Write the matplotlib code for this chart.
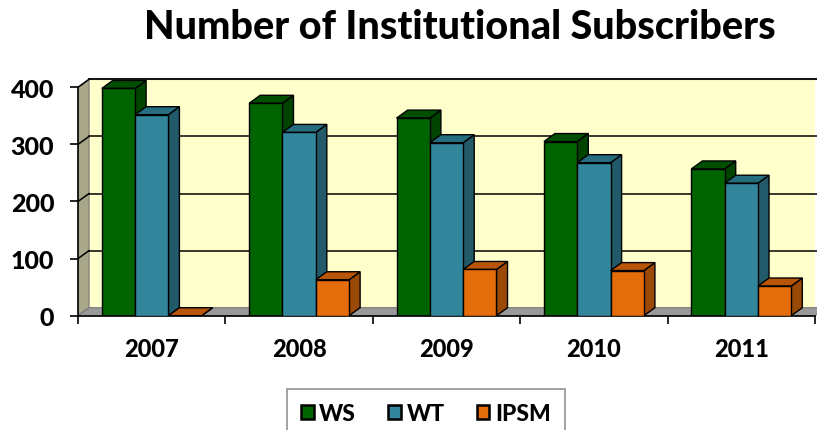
import numpy as np
import matplotlib
matplotlib.use("Agg")
import matplotlib.pyplot as plt
from matplotlib.patches import Polygon, Patch

# ================= DATA =================
years = ["2007", "2008", "2009", "2010", "2011"]
ws = [398, 372, 346, 305, 257]
wt = [352, 321, 303, 268, 232]
ipsm = [0, 63, 81, 79, 52]

series = [("WS", ws), ("WT", wt), ("IPSM", ipsm)]
# front, side, top colours
colors = {
    "WS": ("#006400", "#004400", "#004f00"),
    "WT": ("#31869b", "#225a69", "#276d80"),
    "IPSM": ("#e46c0a", "#9a4906", "#b85508"),
}

plt.rcParams["font.family"] = ["Lato", "DejaVu Sans"]
WEIGHT = "black"

# ================= FIGURE =================
fig = plt.figure(figsize=(8.17, 4.31), dpi=100)
ax = fig.add_axes([78 / 817, 114.3 / 431, 737 / 817, 236.4 / 431])

ymax = 400
dx, dy = 0.075, 14       # 3D depth offset (category units, value units)
w = 0.226
xs = np.arange(len(years))

ax.set_xlim(-0.5, len(years) - 0.5)
ax.set_ylim(0, ymax + dy)
x0, x1 = -0.5, len(years) - 0.5

# walls and floor
ax.add_patch(Polygon([(x0 + dx, dy), (x1 + dx, dy), (x1 + dx, ymax + dy), (x0 + dx, ymax + dy)],
                     closed=True, facecolor="#ffffcc", edgecolor="none", zorder=0))
ax.add_patch(Polygon([(x0, 0), (x0 + dx, dy), (x0 + dx, ymax + dy), (x0, ymax)],
                     closed=True, facecolor="#a9a78a", edgecolor="#777777", lw=0.8, zorder=0.5))
ax.add_patch(Polygon([(x0, 0), (x1, 0), (x1 + dx, dy), (x0 + dx, dy)],
                     closed=True, facecolor="#999999", edgecolor="#777777", lw=0.8, zorder=0.5,
                     clip_on=False))
ax.plot([x0 + dx, x1 + dx], [ymax + dy, ymax + dy], color="#666666", lw=1.5, zorder=0.6,
        clip_on=False)

# gridlines on the back and left walls
for v in range(100, ymax + 1, 100):
    ax.plot([x0 + dx, x1 + dx], [v + dy, v + dy], color="black", lw=1.1, zorder=0.7,
            clip_on=False)
    ax.plot([x0, x0 + dx], [v, v + dy], color="black", lw=1.1, zorder=0.7)

# ================= BARS =================
for i, (name, vals) in enumerate(series):
    front, side, top = colors[name]
    left = xs + (i - 1) * w - w / 2
    z = 2 + i
    ax.bar(left, vals, width=w, align="edge", color=front, edgecolor="black", lw=1,
           zorder=z + 0.5)
    for xl, h in zip(left, vals):
        xr = xl + w
        ax.add_patch(Polygon([(xr, 0), (xr + dx, dy), (xr + dx, h + dy), (xr, h)],
                             closed=True, facecolor=side, edgecolor="black", lw=1, zorder=z))
        ax.add_patch(Polygon([(xl, h), (xr, h), (xr + dx, h + dy), (xl + dx, h + dy)],
                             closed=True, facecolor=top, edgecolor="black", lw=1, zorder=z))

# ================= AXES =================
for s in ["top", "right"]:
    ax.spines[s].set_visible(False)
ax.spines["left"].set_bounds(0, ymax)
ax.spines["left"].set_linewidth(1.2)
ax.spines["bottom"].set_linewidth(1.2)
ax.spines["left"].set_zorder(1)

ax.set_yticks(range(0, ymax + 1, 100))
ax.tick_params(axis="y", length=6, width=1.2, pad=11, labelsize=18)
for lbl in ax.get_yticklabels():
    lbl.set_fontweight(WEIGHT)

ax.set_xticks(xs)
ax.set_xticklabels(years, fontsize=17, fontweight=WEIGHT)
ax.set_xticks(np.arange(-0.5, len(years)), minor=True)
ax.tick_params(axis="x", which="major", length=0, pad=15)
ax.tick_params(axis="x", which="minor", length=6, width=1.2)

fig.text(0.563, 0.937, "Number of Institutional Subscribers", ha="center", va="center",
         fontsize=28.5, fontweight=WEIGHT)

handles = [Patch(facecolor=colors[n][0], edgecolor="black", lw=1.8, label=n) for n, _ in series]
leg = fig.legend(handles=handles, loc="upper center", bbox_to_anchor=(426 / 817, 1 - 390 / 431),
                 ncol=3, frameon=True, fancybox=False, edgecolor="#777777",
                 handlelength=0.55, handleheight=0.55, handletextpad=0.25, columnspacing=1.4,
                 prop={"weight": WEIGHT, "size": 16.5}, borderpad=0.6, borderaxespad=0)
leg.get_frame().set_linewidth(1.2)

fig.savefig("out.png", dpi=100)
